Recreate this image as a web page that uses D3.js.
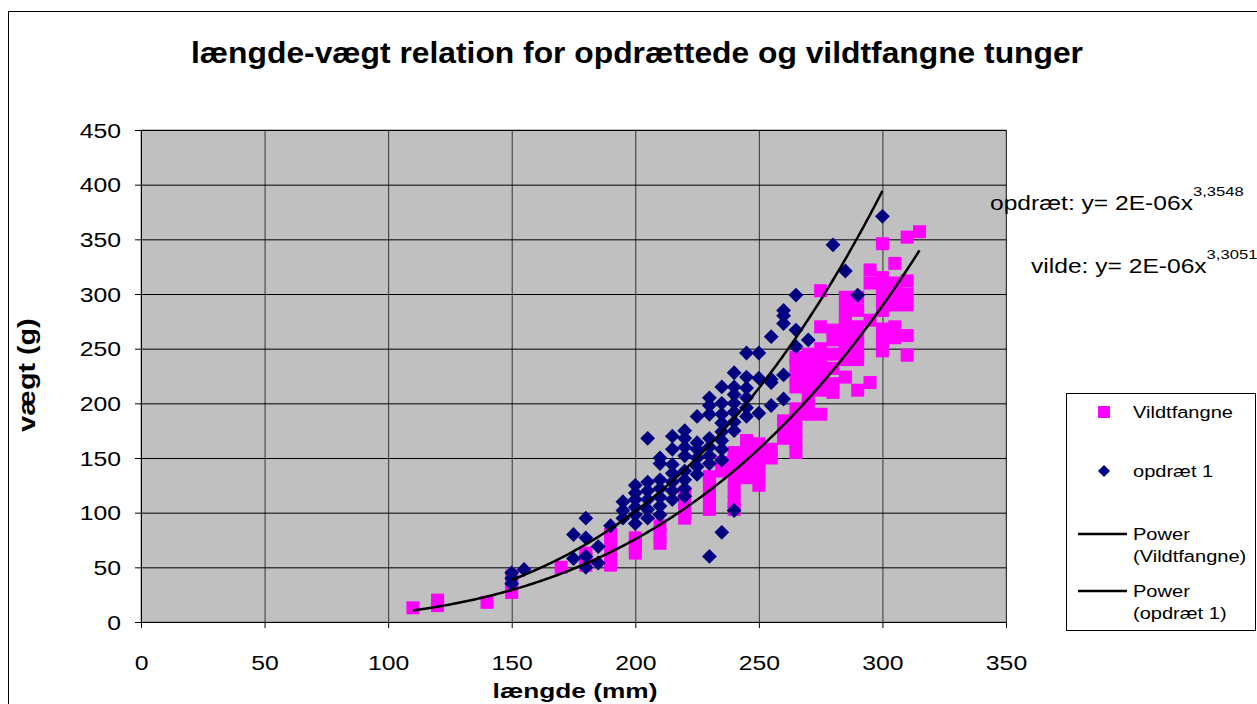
<!DOCTYPE html>
<html>
<head>
<meta charset="utf-8">
<script src="https://cdn.jsdelivr.net/npm/d3@7"></script>
<style>
  body { margin: 0; background: #fff; }
  svg text { font-family: "Liberation Sans", Arial, sans-serif; }
</style>
</head>
<body>
<div id="chart"></div>
<script>
// --- data (length mm, weight g) ---
const vildtPoints = [
  [110,13],[120,15],[120,20],[140,18],[150,27],[150,35],[150,42],[170,50],
  [180,52],[180,58],[180,63],
  [190,52],[190,58],[190,65],[190,72],[190,80],
  [200,63],[200,70],[200,77],
  [210,72],[210,80],[210,88],
  [220,95],[220,102],[220,110],[220,118],
  [230,103],[230,110],[230,118],[230,126],[230,133],
  [235,138],[235,146],
  [240,103],[240,110],[240,120],[240,130],[240,140],[240,150],[240,155],
  [245,132],[245,140],[245,150],[245,158],[245,166],
  [250,125],[250,135],[250,145],[250,155],[250,163],
  [255,150],[255,158],
  [260,168],[260,176],[260,184],
  [265,155],[265,165],[265,175],[265,185],[265,195],[265,215],[265,225],[265,235],[265,242],
  [270,190],[270,198],[270,206],[270,214],[270,222],[270,230],[270,238],[270,245],
  [275,190],[275,212],[275,220],[275,228],[275,236],[275,244],[275,250],[275,270],[275,303],
  [280,210],[280,218],[280,232],[280,245],[280,258],[280,267],
  [285,224],[285,240],[285,248],[285,256],[285,264],[285,272],[285,280],[285,288],[285,297],
  [290,212],[290,240],[290,250],[290,260],[290,270],[290,285],[290,297],
  [295,219],[295,276],[295,310],[295,322],
  [300,248],[300,258],[300,268],[300,285],[300,295],[300,305],[300,315],[300,346],
  [305,260],[305,270],[305,290],[305,300],[305,310],[305,328],
  [310,244],[310,262],[310,290],[310,300],[310,312],[310,352],
  [315,357]
];

const opdraetPoints = [
  [150,35],[150,40],[150,45],[155,48],
  [175,58],[175,80],
  [180,50],[180,60],[180,77],[180,95],
  [185,54],[185,69],[190,88],
  [195,95],[195,102],[195,110],
  [200,90],[200,98],[200,105],[200,112],[200,118],[200,125],
  [205,95],[205,103],[205,112],[205,120],[205,128],[205,168],
  [210,98],[210,106],[210,114],[210,122],[210,130],[210,145],[210,150],
  [215,112],[215,120],[215,128],[215,136],[215,144],[215,158],[215,170],
  [220,115],[220,122],[220,130],[220,138],[220,152],[220,160],[220,168],[220,175],
  [225,135],[225,142],[225,150],[225,158],[225,164],[225,188],
  [230,60],[230,145],[230,152],[230,160],[230,168],[230,190],[230,198],[230,205],
  [235,82],[235,148],[235,158],[235,166],[235,174],[235,182],[235,190],[235,200],[235,215],
  [240,102],[240,175],[240,183],[240,192],[240,200],[240,208],[240,215],[240,228],
  [245,188],[245,196],[245,205],[245,214],[245,224],[245,246],
  [250,191],[250,223],[250,246],
  [255,198],[255,219],[255,222],[255,261],
  [260,204],[260,226],[260,273],[260,280],[260,285],
  [265,252],[265,267],[265,299],
  [270,258],[280,345],[285,321],[290,299],[300,371]
];

// power trend lines y = a * x^b  (exponents as printed on the chart)
const trendVildt   = { a: 1.88e-6, b: 3.3051, from: 110, to: 315 };
const trendOpdraet = { a: 1.93e-6, b: 3.3548, from: 150, to: 300 };

const xTicks = [0, 50, 100, 150, 200, 250, 300, 350];
const yTicks = [0, 50, 100, 150, 200, 250, 300, 350, 400, 450];

const title = "længde-vægt relation for opdrættede og vildtfangne tunger";
const xTitle = "længde (mm)";
const yTitle = "vægt (g)";
const eqOpdraet = ["opdræt: y= 2E-06x", "3,3548"];
const eqVildt = ["vilde: y= 2E-06x", "3,3051"];
const legendItems = [
  { kind: "square", lines: ["Vildtfangne"] },
  { kind: "diamond", lines: ["opdræt 1"] },
  { kind: "line", lines: ["Power", "(Vildtfangne)"] },
  { kind: "line", lines: ["Power", "(opdræt 1)"] }
];

const width = 1257, height = 704;
const plot = { left: 141, right: 1006, top: 130, bottom: 622 };
const pink = "#ff00ff", navy = "#000080";

const svg = d3.select("#chart").append("svg")
  .attr("width", width)
  .attr("height", height);

// chart frame
svg.append("rect")
  .attr("x", 8.5).attr("y", 11.5)
  .attr("width", 1260).attr("height", 700)
  .attr("fill", "#fff").attr("stroke", "#000");

const x = d3.scaleLinear().domain([0, 350]).range([plot.left, plot.right]);
const y = d3.scaleLinear().domain([0, 450]).range([plot.bottom, plot.top]);

// helper for the wide-looking Excel text
function wideText(x0, y0, sx, str) {
  return svg.append("text")
    .attr("transform", `translate(${x0},${y0}) scale(${sx},1)`)
    .text(str);
}

// plot background
svg.append("rect")
  .attr("x", plot.left).attr("y", plot.top)
  .attr("width", plot.right - plot.left)
  .attr("height", plot.bottom - plot.top)
  .attr("fill", "#c0c0c0")
  .attr("stroke", "#808080");

// grid lines
svg.append("g")
  .attr("transform", `translate(0,${plot.bottom})`)
  .call(d3.axisBottom(x).tickValues(xTicks)
    .tickSize(-(plot.bottom - plot.top)).tickFormat(""))
  .call(g => g.select(".domain").remove())
  .selectAll("line").attr("stroke", "#333");

svg.append("g")
  .attr("transform", `translate(${plot.left},0)`)
  .call(d3.axisLeft(y).tickValues(yTicks)
    .tickSize(-(plot.right - plot.left)).tickFormat(""))
  .call(g => g.select(".domain").remove())
  .selectAll("line").attr("stroke", "#000");

// axes
const xAxis = svg.append("g")
  .attr("transform", `translate(0,${plot.bottom})`)
  .call(d3.axisBottom(x).tickValues(xTicks).tickSize(6).tickSizeOuter(0));
xAxis.selectAll("text")
  .attr("y", 48).attr("dy", null)
  .attr("font-size", 19.5)
  .attr("fill", "#000")
  .attr("transform", "scale(1.27,1)");

const yAxis = svg.append("g")
  .attr("transform", `translate(${plot.left},0)`)
  .call(d3.axisLeft(y).tickValues(yTicks).tickSize(6).tickSizeOuter(0));
yAxis.selectAll("text")
  .attr("x", -20 / 1.27)
  .attr("dy", "0.36em")
  .attr("font-size", 19.5)
  .attr("fill", "#000")
  .attr("transform", "scale(1.27,1)");
svg.selectAll(".domain").attr("stroke", "#000");

// scatter: Vildtfangne squares
const sq = 13;
svg.append("g").selectAll("rect")
  .data(vildtPoints)
  .join("rect")
  .attr("x", d => x(d[0]) - sq / 2)
  .attr("y", d => y(d[1]) - sq / 2)
  .attr("width", sq).attr("height", sq)
  .attr("fill", pink);

// scatter: opdræt 1 diamonds
const diamond = d3.symbol(d3.symbolSquare, 110);
svg.append("g").selectAll("path")
  .data(opdraetPoints)
  .join("path")
  .attr("d", diamond)
  .attr("transform", d => `translate(${x(d[0])},${y(d[1])}) rotate(45)`)
  .attr("fill", navy);

// trend lines
const line = d3.line().x(d => x(d[0])).y(d => y(d[1]));
[trendVildt, trendOpdraet].forEach(t => {
  const pts = d3.range(t.from, t.to + 0.1, 1).map(v => [v, t.a * Math.pow(v, t.b)]);
  svg.append("path")
    .datum(pts)
    .attr("fill", "none")
    .attr("stroke", "#000")
    .attr("stroke-width", 2.5)
    .attr("d", line);
});

// title and axis titles
wideText(637, 63, 1.06, title)
  .attr("text-anchor", "middle")
  .attr("font-size", 30)
  .attr("font-weight", "bold");

wideText(575, 698, 1.25, xTitle)
  .attr("text-anchor", "middle")
  .attr("font-size", 21)
  .attr("font-weight", "bold");

svg.append("text")
  .attr("transform", `translate(35,375) rotate(-90) scale(1.25,1)`)
  .attr("text-anchor", "middle")
  .attr("font-size", 23)
  .attr("font-weight", "bold")
  .text(yTitle);

// equations (the first one runs off the chart edge, as in the original)
function equation(x0, y0, parts) {
  const t = wideText(x0, y0, 1.23, parts[0]).attr("font-size", 20);
  t.append("tspan")
    .attr("dy", -14)
    .attr("font-size", 13.5)
    .text(parts[1]);
}
equation(990, 210, eqOpdraet);
equation(1031, 273, eqVildt);

// legend
const legend = svg.append("g");
legend.append("rect")
  .attr("x", 1066.5).attr("y", 393.5)
  .attr("width", 189).attr("height", 237)
  .attr("fill", "#fff").attr("stroke", "#000");

const rowY = [412, 471, 534, 591];
legendItems.forEach((item, i) => {
  const cy = rowY[i];
  if (item.kind === "square") {
    legend.append("rect")
      .attr("x", 1098).attr("y", cy - 6)
      .attr("width", 12).attr("height", 12)
      .attr("fill", pink);
  } else if (item.kind === "diamond") {
    legend.append("path")
      .attr("d", d3.symbol(d3.symbolSquare, 72))
      .attr("transform", `translate(1104,${cy}) rotate(45)`)
      .attr("fill", navy);
  } else {
    legend.append("line")
      .attr("x1", 1078).attr("x2", 1127)
      .attr("y1", cy).attr("y2", cy)
      .attr("stroke", "#000").attr("stroke-width", 2.5);
  }
  item.lines.forEach((s, j) => {
    wideText(1133, cy + 6 + j * 22, 1.18, s)
      .attr("font-size", 17);
  });
});
</script>
</body>
</html>
